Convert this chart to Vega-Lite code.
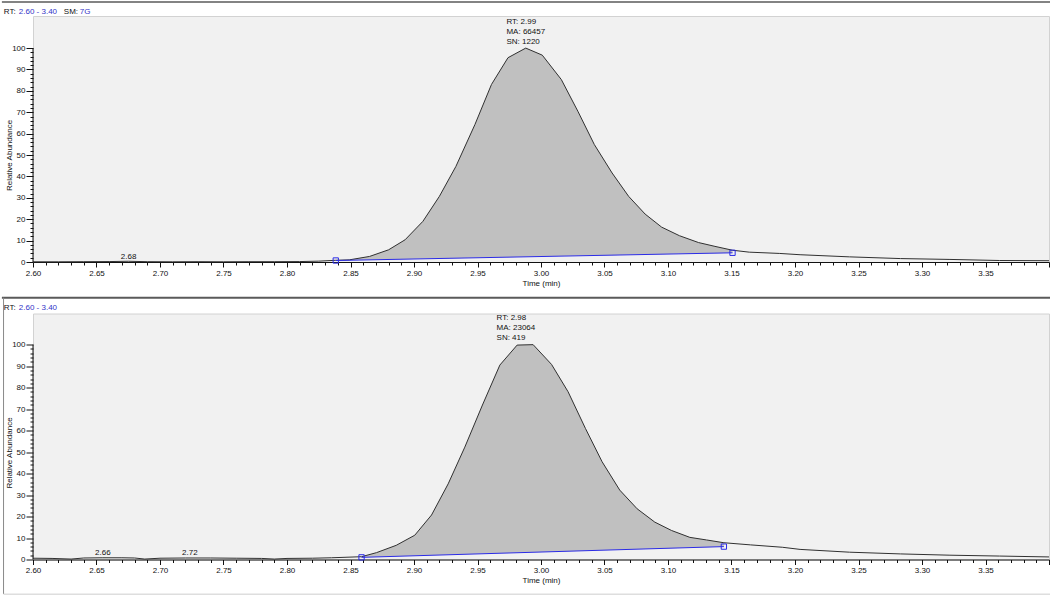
{
  "$schema": "https://vega.github.io/schema/vega-lite/v6.json",
  "padding": 0,
  "background": "white",
  "bounds": "flush",
  "spacing": 51.5,
  "config": {
    "font": "Liberation Sans",
    "view": {"fill": "#f1f1f1", "stroke": "#d2d2d2"},
    "axis": {"labelFont": "Liberation Sans", "labelFontSize": 8, "labelColor": "#111", "titleFont": "Liberation Sans", "titleFontSize": 8, "titleFontWeight": "normal", "titleColor": "#111", "tickColor": "#111", "domainColor": "#111", "grid": false},
    "text": {"font": "Liberation Sans", "fontSize": 8, "color": "#111"}
  },
  "datasets": {
    "topCurve": [
      {"t": 2.600, "v": 0.1}, {"t": 2.620, "v": 0.1}, {"t": 2.640, "v": 0.15}, {"t": 2.660, "v": 0.2},
      {"t": 2.675, "v": 0.35}, {"t": 2.690, "v": 0.15}, {"t": 2.710, "v": 0.1}, {"t": 2.730, "v": 0.15},
      {"t": 2.750, "v": 0.1}, {"t": 2.770, "v": 0.15}, {"t": 2.790, "v": 0.15}, {"t": 2.810, "v": 0.2},
      {"t": 2.825, "v": 0.4},
      {"t": 2.8384, "v": 0.8, "base": 0.70}, {"t": 2.849, "v": 1.0, "base": 0.82}, {"t": 2.865, "v": 2.6, "base": 1.01},
      {"t": 2.880, "v": 5.7, "base": 1.18}, {"t": 2.893, "v": 10.4, "base": 1.33}, {"t": 2.907, "v": 19.0, "base": 1.49},
      {"t": 2.920, "v": 30.7, "base": 1.64}, {"t": 2.933, "v": 44.7, "base": 1.79}, {"t": 2.948, "v": 64.3, "base": 1.96},
      {"t": 2.961, "v": 83.0, "base": 2.11}, {"t": 2.974, "v": 95.5, "base": 2.26}, {"t": 2.988, "v": 100.0, "base": 2.42},
      {"t": 3.001, "v": 96.7, "base": 2.57}, {"t": 3.016, "v": 85.3, "base": 2.75}, {"t": 3.029, "v": 70.5, "base": 2.90},
      {"t": 3.042, "v": 54.9, "base": 3.05}, {"t": 3.056, "v": 41.6, "base": 3.21}, {"t": 3.069, "v": 30.7, "base": 3.36},
      {"t": 3.082, "v": 22.4, "base": 3.51}, {"t": 3.095, "v": 16.3, "base": 3.66}, {"t": 3.109, "v": 12.3, "base": 3.82},
      {"t": 3.124, "v": 9.1, "base": 3.99}, {"t": 3.137, "v": 7.3, "base": 4.14}, {"t": 3.1508, "v": 5.5, "base": 4.30},
      {"t": 3.164, "v": 4.6}, {"t": 3.188, "v": 4.0}, {"t": 3.204, "v": 3.4}, {"t": 3.243, "v": 2.4},
      {"t": 3.283, "v": 1.6}, {"t": 3.322, "v": 1.2}, {"t": 3.361, "v": 0.7}, {"t": 3.400, "v": 0.6}
    ],
    "topBaseline": [{"t": 2.8384, "v": 0.70}, {"t": 3.1508, "v": 4.30}],
    "topPeakLabel": [
      {"t": 2.9728, "v": 112.1, "label": "RT: 2.99"},
      {"t": 2.9728, "v": 107.4, "label": "MA: 66457"},
      {"t": 2.9728, "v": 102.7, "label": "SN: 1220"}
    ],
    "topRtLabels": [{"t": 2.6753, "v": 2.5, "label": "2.68"}],
    "topHeader": [
      {"t": 2.5770, "v": 117.0, "label": "RT:", "part": "key"},
      {"t": 2.5888, "v": 117.0, "label": "2.60 - 3.40", "part": "val"},
      {"t": 2.6243, "v": 117.0, "label": "SM:", "part": "key"},
      {"t": 2.6369, "v": 117.0, "label": "7G", "part": "val"}
    ],
    "topFrame": [{"t": 2.5755, "t2": 3.4008, "v": 121.55}],
    "bottomCurve": [
      {"t": 2.600, "v": 0.6}, {"t": 2.615, "v": 0.5}, {"t": 2.630, "v": 0.2}, {"t": 2.640, "v": 0.7},
      {"t": 2.655, "v": 0.8}, {"t": 2.670, "v": 0.8}, {"t": 2.680, "v": 0.7}, {"t": 2.688, "v": 0.2},
      {"t": 2.700, "v": 0.6}, {"t": 2.720, "v": 0.7}, {"t": 2.740, "v": 0.7}, {"t": 2.760, "v": 0.6},
      {"t": 2.780, "v": 0.5}, {"t": 2.790, "v": 0.2}, {"t": 2.800, "v": 0.5}, {"t": 2.820, "v": 0.6},
      {"t": 2.835, "v": 0.8},
      {"t": 2.8587, "v": 1.3, "base": 1.00}, {"t": 2.8705, "v": 3.2, "base": 1.21}, {"t": 2.886, "v": 6.6, "base": 1.48},
      {"t": 2.9006, "v": 11.3, "base": 1.73}, {"t": 2.9138, "v": 20.7, "base": 1.97}, {"t": 2.9269, "v": 35.2, "base": 2.20},
      {"t": 2.940, "v": 52.3, "base": 2.42}, {"t": 2.9539, "v": 71.9, "base": 2.67}, {"t": 2.9676, "v": 90.5, "base": 2.91},
      {"t": 2.9812, "v": 99.8, "base": 3.15}, {"t": 2.9938, "v": 100.0, "base": 3.37}, {"t": 3.0083, "v": 90.8, "base": 3.62},
      {"t": 3.0213, "v": 78.1, "base": 3.85}, {"t": 3.035, "v": 61.0, "base": 4.09}, {"t": 3.0481, "v": 45.5, "base": 4.32},
      {"t": 3.062, "v": 32.3, "base": 4.56}, {"t": 3.0757, "v": 23.6, "base": 4.80}, {"t": 3.0896, "v": 17.4, "base": 5.05},
      {"t": 3.1028, "v": 13.5, "base": 5.28}, {"t": 3.1172, "v": 10.3, "base": 5.53}, {"t": 3.1303, "v": 9.1, "base": 5.76},
      {"t": 3.144, "v": 7.8, "base": 6.00},
      {"t": 3.165, "v": 6.8}, {"t": 3.190, "v": 5.7}, {"t": 3.204, "v": 4.7}, {"t": 3.243, "v": 3.4},
      {"t": 3.283, "v": 2.6}, {"t": 3.322, "v": 2.0}, {"t": 3.361, "v": 1.6}, {"t": 3.400, "v": 1.2}
    ],
    "bottomBaseline": [{"t": 2.8587, "v": 1.0}, {"t": 3.144, "v": 6.0}],
    "bottomPeakLabel": [
      {"t": 2.9650, "v": 112.4, "label": "RT: 2.98"},
      {"t": 2.9650, "v": 107.7, "label": "MA: 23064"},
      {"t": 2.9650, "v": 103.1, "label": "SN: 419"}
    ],
    "bottomRtLabels": [{"t": 2.655, "v": 2.8, "label": "2.66"}, {"t": 2.7235, "v": 2.8, "label": "2.72"}],
    "bottomHeader": [
      {"t": 2.5770, "v": 116.9, "label": "RT:", "part": "key"},
      {"t": 2.5888, "v": 116.9, "label": "2.60 - 3.40", "part": "val"}
    ],
    "bottomFrame": [{"t": 2.5755, "t2": 3.4008, "v": 121.85}],
    "bottomLeftFrame": [{"t": 2.5768, "v": 121.85, "v2": -16.06}],
    "bottomFoot": [{"t": 2.5768, "t2": 3.4008, "v": -16.3}],
    "axisLine": [{"t": 2.6, "v": 0, "v2": 100}]
  },
  "vconcat": [
    {
      "width": 1016,
      "height": 246,
      "encoding": {
        "x": {"field": "t", "type": "quantitative", "scale": {"domain": [2.6, 3.4], "nice": false, "zero": false},
          "axis": {"title": "Time (min)", "format": ".2f", "values": [2.60,2.61,2.62,2.63,2.64,2.65,2.66,2.67,2.68,2.69,2.70,2.71,2.72,2.73,2.74,2.75,2.76,2.77,2.78,2.79,2.80,2.81,2.82,2.83,2.84,2.85,2.86,2.87,2.88,2.89,2.90,2.91,2.92,2.93,2.94,2.95,2.96,2.97,2.98,2.99,3.00,3.01,3.02,3.03,3.04,3.05,3.06,3.07,3.08,3.09,3.10,3.11,3.12,3.13,3.14,3.15,3.16,3.17,3.18,3.19,3.20,3.21,3.22,3.23,3.24,3.25,3.26,3.27,3.28,3.29,3.30,3.31,3.32,3.33,3.34,3.35,3.36,3.37,3.38,3.39,3.40],
            "labelExpr": "abs(datum.value*20-round(datum.value*20))<0.01 && datum.value<3.39 ? datum.label : ''",
            "tickSize": {"condition": {"test": "abs(datum.value*20-round(datum.value*20))<0.01", "value": 5}, "value": 3},
            "labelFlush": false, "labelOverlap": false, "labelPadding": 2, "titlePadding": 2}},
        "y": {"field": "v", "type": "quantitative", "scale": {"domain": [0, 115], "nice": false, "zero": false},
          "axis": {"title": "Relative Abundance", "domain": false, "values": [0,2,4,6,8,10,12,14,16,18,20,22,24,26,28,30,32,34,36,38,40,42,44,46,48,50,52,54,56,58,60,62,64,66,68,70,72,74,76,78,80,82,84,86,88,90,92,94,96,98,100],
            "labelExpr": "datum.value % 10 == 0 ? datum.label : ''",
            "tickSize": {"condition": {"test": "datum.value % 10 == 0", "value": 7}, "value": 3},
            "labelOverlap": false, "labelPadding": 1,
            "titleX": -24, "titleY": 139, "titleAngle": 270, "titleAlign": "center", "titleBaseline": "middle"}}
      },
      "layer": [
        {
          "data": {"name": "topCurve"},
          "transform": [{"filter": "isValid(datum.base)"}],
          "mark": {"type": "area", "fill": "#c0c0c0", "opacity": 1},
          "encoding": {"y2": {"field": "base"}}
        },
        {
          "data": {"name": "topCurve"},
          "mark": {"type": "line", "color": "#303030", "strokeWidth": 1},
          "encoding": {}
        },
        {
          "data": {"name": "topBaseline"},
          "mark": {"type": "line", "color": "#2b2be6", "strokeWidth": 1},
          "encoding": {}
        },
        {
          "data": {"name": "topBaseline"},
          "mark": {"type": "point", "shape": "square", "filled": false, "size": 28, "stroke": "#2b2be6", "strokeWidth": 1, "opacity": 1},
          "encoding": {}
        },
        {
          "data": {"name": "topPeakLabel"},
          "mark": {"type": "text", "align": "left", "baseline": "middle"},
          "encoding": {"text": {"field": "label"}}
        },
        {
          "data": {"name": "topRtLabels"},
          "mark": {"type": "text", "align": "center", "baseline": "middle"},
          "encoding": {"text": {"field": "label"}}
        },
        {
          "data": {"name": "topHeader"},
          "mark": {"type": "text", "align": "left", "baseline": "middle"},
          "encoding": {"text": {"field": "label"},
            "color": {"field": "part", "type": "nominal", "scale": {"domain": ["key", "val"], "range": ["#111111", "#3434c8"]}, "legend": null}}
        },
        {
          "data": {"name": "axisLine"},
          "mark": {"type": "rule", "color": "#111", "strokeWidth": 1},
          "encoding": {"y2": {"field": "v2"}}
        },
        {
          "data": {"name": "topFrame"},
          "mark": {"type": "rule", "color": "#5a5a5a", "strokeWidth": 1.5},
          "encoding": {"x2": {"field": "t2"}}
        }
      ]
    },
    {
      "width": 1016,
      "height": 246,
      "encoding": {
        "x": {"field": "t", "type": "quantitative", "scale": {"domain": [2.6, 3.4], "nice": false, "zero": false},
          "axis": {"title": "Time (min)", "format": ".2f", "values": [2.60,2.61,2.62,2.63,2.64,2.65,2.66,2.67,2.68,2.69,2.70,2.71,2.72,2.73,2.74,2.75,2.76,2.77,2.78,2.79,2.80,2.81,2.82,2.83,2.84,2.85,2.86,2.87,2.88,2.89,2.90,2.91,2.92,2.93,2.94,2.95,2.96,2.97,2.98,2.99,3.00,3.01,3.02,3.03,3.04,3.05,3.06,3.07,3.08,3.09,3.10,3.11,3.12,3.13,3.14,3.15,3.16,3.17,3.18,3.19,3.20,3.21,3.22,3.23,3.24,3.25,3.26,3.27,3.28,3.29,3.30,3.31,3.32,3.33,3.34,3.35,3.36,3.37,3.38,3.39,3.40],
            "labelExpr": "abs(datum.value*20-round(datum.value*20))<0.01 && datum.value<3.39 ? datum.label : ''",
            "tickSize": {"condition": {"test": "abs(datum.value*20-round(datum.value*20))<0.01", "value": 5}, "value": 3},
            "labelFlush": false, "labelOverlap": false, "labelPadding": 2, "titlePadding": 2}},
        "y": {"field": "v", "type": "quantitative", "scale": {"domain": [0, 114.5], "nice": false, "zero": false},
          "axis": {"title": "Relative Abundance", "domain": false, "values": [0,2,4,6,8,10,12,14,16,18,20,22,24,26,28,30,32,34,36,38,40,42,44,46,48,50,52,54,56,58,60,62,64,66,68,70,72,74,76,78,80,82,84,86,88,90,92,94,96,98,100],
            "labelExpr": "datum.value % 10 == 0 ? datum.label : ''",
            "tickSize": {"condition": {"test": "datum.value % 10 == 0", "value": 7}, "value": 3},
            "labelOverlap": false, "labelPadding": 1,
            "titleX": -24, "titleY": 139, "titleAngle": 270, "titleAlign": "center", "titleBaseline": "middle"}}
      },
      "layer": [
        {
          "data": {"name": "bottomCurve"},
          "transform": [{"filter": "isValid(datum.base)"}],
          "mark": {"type": "area", "fill": "#c0c0c0", "opacity": 1},
          "encoding": {"y2": {"field": "base"}}
        },
        {
          "data": {"name": "bottomCurve"},
          "mark": {"type": "line", "color": "#303030", "strokeWidth": 1},
          "encoding": {}
        },
        {
          "data": {"name": "bottomBaseline"},
          "mark": {"type": "line", "color": "#2b2be6", "strokeWidth": 1},
          "encoding": {}
        },
        {
          "data": {"name": "bottomBaseline"},
          "mark": {"type": "point", "shape": "square", "filled": false, "size": 28, "stroke": "#2b2be6", "strokeWidth": 1, "opacity": 1},
          "encoding": {}
        },
        {
          "data": {"name": "bottomPeakLabel"},
          "mark": {"type": "text", "align": "left", "baseline": "middle"},
          "encoding": {"text": {"field": "label"}}
        },
        {
          "data": {"name": "bottomRtLabels"},
          "mark": {"type": "text", "align": "center", "baseline": "middle"},
          "encoding": {"text": {"field": "label"}}
        },
        {
          "data": {"name": "bottomHeader"},
          "mark": {"type": "text", "align": "left", "baseline": "middle"},
          "encoding": {"text": {"field": "label"},
            "color": {"field": "part", "type": "nominal", "scale": {"domain": ["key", "val"], "range": ["#111111", "#3434c8"]}, "legend": null}}
        },
        {
          "data": {"name": "axisLine"},
          "mark": {"type": "rule", "color": "#111", "strokeWidth": 1},
          "encoding": {"y2": {"field": "v2"}}
        },
        {
          "data": {"name": "bottomFrame"},
          "mark": {"type": "rule", "color": "#5a5a5a", "strokeWidth": 2},
          "encoding": {"x2": {"field": "t2"}}
        },
        {
          "data": {"name": "bottomLeftFrame"},
          "mark": {"type": "rule", "color": "#8a8a8a", "strokeWidth": 1},
          "encoding": {"y2": {"field": "v2"}}
        },
        {
          "data": {"name": "bottomFoot"},
          "mark": {"type": "rule", "color": "#dedede", "strokeWidth": 2},
          "encoding": {"x2": {"field": "t2"}}
        }
      ]
    }
  ]
}
